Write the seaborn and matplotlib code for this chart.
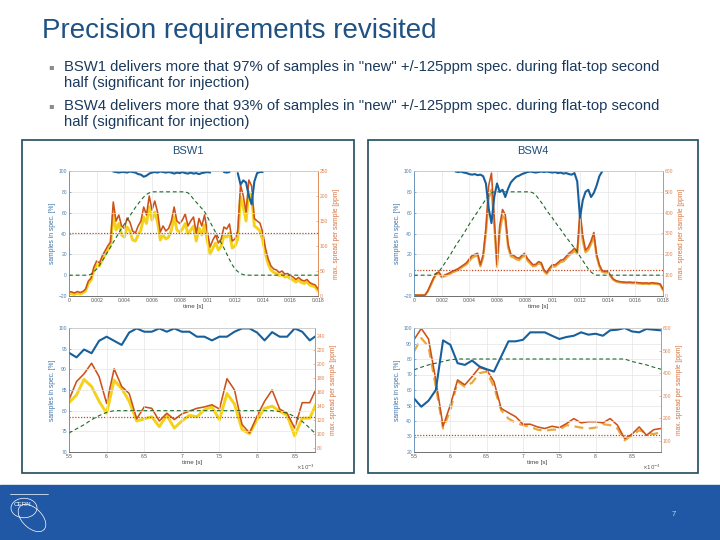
import matplotlib
matplotlib.use("Agg")
import matplotlib.pyplot as plt
from matplotlib.patches import Rectangle, Circle, Ellipse
from matplotlib.ticker import FuncFormatter
import numpy as np
import seaborn as sns

nan = np.nan

# ---------------- data ----------------
# top panels: full cycle, time in s
t_cycle = np.linspace(0, 0.018, 91)

bsw1_blue = [nan] * 16 + [
    99.5, 99, 98.5, 99, 99, 98.5, 99.5, 99, 98.5, 97, 96.5, 94.5, 95.5, 97.5, 98.5, 99,
    98.5, 99.5, 99, 98.5, 99, 98.5, 97.5, 98.5, 98, 99, 98, 97.5, 98.5, 97.5, 98, 97,
    98, 98.5, 99, 98.5, nan, nan, nan, nan, 99, 98.5, 99, nan, nan, 98, 87, 91, 89, 76,
    68, 90, 98, 99, 99] + [nan] * 20
bsw1_green = [0] * 8 + [
    1, 3, 6, 9.5, 13.5, 18, 22.5, 27, 31.5, 36, 40.5, 45, 49, 53, 57, 61, 65, 68.5, 72,
    75, 77.5, 79] + [80] * 13 + [
    79, 76.5, 73, 70, 67, 64, 61, 56, 51, 46, 41, 36, 31, 26, 20.5, 15, 10, 6, 3.5, 1.5,
    0.5] + [0] * 27
bsw1_orange = [
    9, 8, 6, 9, 7, 9, 14, 30, 36, 58, 70, 66, 80, 90, 100, 108, 188, 150, 162, 140, 135,
    156, 148, 130, 126, 140, 150, 178, 162, 200, 172, 190, 168, 128, 140, 130, 135, 150,
    178, 150, 145, 152, 164, 140, 150, 158, 126, 155, 140, 162, 128, 98, 112, 122, 106,
    114, 138, 134, 144, 110, 114, 130, 222, 200, 168, 232, 220, 155, 150, 146, 128, 96,
    74, 60, 54, 52, 47, 50, 44, 45, 41, 38, 33, 37, 32, 30, 33, 27, 24, 22, 14]
bsw1_yellow = [
    6, 4, 3, 6, 4, 6, 10, 25, 32, 52, 62, 60, 72, 82, 92, 100, 165, 132, 145, 122, 118,
    138, 130, 112, 110, 122, 132, 158, 145, 178, 152, 168, 148, 112, 122, 114, 118, 132,
    158, 132, 128, 134, 145, 124, 132, 140, 110, 136, 122, 142, 110, 84, 96, 106, 92,
    100, 120, 118, 126, 96, 100, 114, 198, 178, 150, 208, 198, 140, 136, 130, 112, 84,
    64, 52, 47, 45, 41, 43, 38, 39, 35, 32, 28, 31, 27, 25, 28, 22, 20, 18, 10]

bsw4_blue = [nan] * 15 + [
    99.5, 99, 99.5, 98.5, 98, 97, 96.5, 97, 96, 96.5, 95, 88, 64, 50, 75, 88, 80, 82, 75,
    83, 89, 92, 94.5, 95.5, 97, 98, 99, 99.5, 99, 98.5, 99, 99.5, 99, 99.5, 99, 98.5, 99,
    98, 98.5, 97.5, 98, 97, 96.5, 98, 90, 55, 72, 80, 82, 75, 79, 86, 95, 99.5] + [nan] * 22
bsw4_green = [0] * 7 + [
    0.5, 1.5, 3.5, 7, 11, 15, 19, 23.5, 28, 32, 36, 40, 44.5, 49, 53, 57, 61, 65, 69, 73,
    76.5, 79] + [80] * 14 + [
    79, 77, 73.5, 70, 66, 62, 58.5, 55, 51, 47.5, 44, 40, 36.5, 33, 29.5, 26, 22, 18, 14,
    10, 6, 3, 1] + [0] * 25
bsw4_orange = [
    6, 4, 4, 4, 5, 25, 55, 85, 108, 116, 94, 100, 106, 112, 120, 125, 132, 141, 150, 160,
    178, 194, 200, 205, 150, 200, 330, 530, 590, 380, 150, 340, 415, 390, 250, 200, 195,
    185, 181, 195, 205, 180, 165, 150, 152, 165, 160, 125, 112, 135, 150, 149, 160, 172,
    175, 190, 205, 215, 229, 215, 410, 290, 220, 235, 265, 305, 200, 150, 122, 118, 120,
    100, 82, 74, 70, 68, 67, 66, 67, 65, 66, 64, 63, 62, 63, 61, 64, 62, 61, 58, 32]
bsw4_yellow = [
    4, 3, 3, 3, 4, 22, 50, 80, 102, 110, 90, 95, 100, 106, 114, 119, 126, 135, 144, 152,
    168, 184, 190, 195, 142, 185, 300, 470, 510, 340, 140, 310, 385, 365, 235, 190, 185,
    176, 172, 185, 195, 170, 156, 142, 145, 156, 152, 118, 106, 128, 142, 141, 152, 163,
    166, 180, 194, 204, 216, 204, 370, 265, 210, 222, 250, 285, 190, 142, 116, 112, 114,
    95, 78, 70, 66, 64, 63, 62, 63, 61, 62, 60, 59, 58, 59, 57, 60, 58, 57, 54, 28]

# bottom panels: zoom on flat-top, time in ms (axis shows x10^-3 s)
t_zoom1 = np.linspace(5.5, 8.8, 34)
zoom1_blue = [
    94.0, 92.9, 94.8, 93.9, 96.9, 97.9, 96.9, 95.9, 98.9, 99.9, 99.1, 99.1, 99.9, 99.1,
    99.9, 99.1, 99.1, 97.9, 97.9, 97.0, 97.9, 97.9, 99.1, 99.9, 99.9, 98.9, 97.0, 99.0,
    97.9, 97.9, 99.9, 99.1, 97.0, 98.3]
zoom1_green = [74.6, 75.6, 76.6, 77.8, 78.8, 79.6] + [80] * 22 + [79.8, 79.4, 78.6, 77.4, 75.8, 74.0]
zoom1_orange = [
    149, 175, 186, 201, 182, 144, 193, 168, 158, 122, 139, 137, 119, 130, 121, 129, 133,
    137, 139, 142, 136, 179, 163, 114, 102, 126, 147, 163, 136, 130, 109, 145, 145, 168]
zoom1_yellow = [
    145, 156, 178, 168, 147, 130, 177, 165, 147, 119, 122, 125, 111, 127, 109, 119, 127,
    125, 135, 139, 121, 158, 143, 107, 101, 121, 137, 140, 133, 127, 98, 123, 123, 147]

t_zoom4 = np.linspace(5.5, 8.9, 35)
zoom4_blue = [
    54.6, 49.2, 53.1, 60, 92, 89.2, 77.3, 76.2, 79, 75.2, 73.4, 71.9, 81.6, 91.4, 91.4,
    92.4, 97.2, 97.2, 97.2, 95, 92.9, 94.2, 95, 97.2, 95.7, 96.3, 95, 98.5, 98.9, 100,
    97.8, 97.2, 99.4, 98.9, 98.5]
zoom4_green = [73, 74.7, 76.2, 77.3, 78.4, 79.5] + [80] * 24 + [78.4, 77.3, 76.2, 74.7, 73.4]
zoom4_orange = [
    548, 598, 551, 370, 165, 259, 370, 348, 385, 425, 415, 363, 244, 225, 207, 174, 174,
    162, 155, 165, 159, 177, 199, 180, 185, 185, 180, 199, 170, 110, 130, 162, 125, 150, 155]
zoom4_yellow = [
    496, 555, 518, 340, 155, 236, 363, 340, 358, 400, 407, 340, 236, 199, 180, 170, 162,
    150, 145, 150, 150, 170, 165, 159, 155, 159, 174, 170, 155, 103, 125, 147, 136, 130, 140]

spec_ppm = 125

title = "Precision requirements revisited"
bullets = [
    'BSW1 delivers more that 97% of samples in "new" +/-125ppm spec. during flat-top second',
    "half (significant for injection)",
    'BSW4 delivers more that 93% of samples in "new" +/-125ppm spec. during flat-top second',
    "half (significant for injection)",
]

# ---------------- style ----------------
sns.set_style("white")
plt.rcParams["font.family"] = ["Liberation Sans", "DejaVu Sans"]

BLUE = "#17609c"
ORANGE = "#cc5218"
YELLOW = "#f5d21a"
AMBER = "#eaa83a"
GREEN = "#1e6b2a"
SPEC = "#c8401c"
TXT = "#1b3a5c"

W, H = 720, 540
fig = plt.figure(figsize=(7.2, 5.4), dpi=100)


def fx(px):
    return px / W


def fy(py):
    return 1 - py / H


def segments(x, y):
    # split a series at its gaps so each piece is its own line
    y = np.asarray(y, dtype=float)
    ok = ~np.isnan(y)
    start = None
    for i, v in enumerate(ok):
        if v and start is None:
            start = i
        if (not v or i == len(ok) - 1) and start is not None:
            end = i + 1 if v else i
            yield x[start:end], y[start:end]
            start = None


def draw(ax, x, y, **kw):
    for xs, ys in segments(np.asarray(x), y):
        sns.lineplot(x=xs, y=ys, ax=ax, estimator=None, sort=False, legend=False, **kw)


def panel(box, t, blue, green, orange, yellow, ylim_l, lticks, ylim_r, rticks,
          xlim, xticks, ycol, ylw, yls, zoomed):
    l, top, r, b = box
    ax = fig.add_axes([fx(l), fy(b), fx(r) - fx(l), fy(top) - fy(b)])
    ax2 = ax.twinx()

    draw(ax, t, green, color=GREEN, lw=0.8, linestyle=(0, (3.5, 2.5)))
    draw(ax, t, blue, color=BLUE, lw=1.5)
    draw(ax2, t, yellow, color=ycol, lw=ylw, linestyle=yls)
    draw(ax2, t, orange, color=ORANGE, lw=1.15)
    ax2.axhline(spec_ppm, color=SPEC, lw=0.9, linestyle=(0, (1, 1.3)))
    ax.set_zorder(ax2.get_zorder() + 1)
    ax.patch.set_visible(False)

    ax.set_xlim(*xlim)
    ax.set_xticks(xticks)
    ax.set_ylim(*ylim_l)
    ax.set_yticks(lticks)
    ax2.set_ylim(*ylim_r)
    ax2.set_yticks(rticks)
    ax.xaxis.set_major_formatter(FuncFormatter(lambda v, _: "0" if abs(v) < 1e-12 else f"{v:g}"))
    ax.grid(True, color="#e4e4e4", lw=0.5)
    ax.set_axisbelow(True)

    for a in (ax, ax2):
        a.tick_params(labelsize=3.6, length=1.5, width=0.4, direction="in", pad=1.5)
        for s in a.spines.values():
            s.set_linewidth(0.5)
    ax.tick_params(axis="y", colors="#4a7fb0")
    ax2.tick_params(axis="y", colors="#dc8552")
    ax.tick_params(axis="x", colors="#555555")
    for a in (ax, ax2):
        a.spines["left"].set_color("#4a7fb0")
        a.spines["right"].set_color("#dc8552")
        a.spines["top"].set_color("#c8c8c8")
        a.spines["bottom"].set_color("#666666")

    ax.set_xlabel("time [s]", fontsize=4.5, color="#444444", labelpad=1)
    ax.set_ylabel("samples in spec. [%]", fontsize=4.8, color="#3c74a8", labelpad=2)
    ax2.set_ylabel("max. spread per sample [ppm]", fontsize=4.8, color="#d6733c", labelpad=3)
    if zoomed:
        ax.text(1.0, -0.09, r"$\times10^{-3}$", transform=ax.transAxes, fontsize=4,
                color="#555555", ha="right", va="top")
    return ax


# top panels
panel((69, 171, 318, 296), t_cycle, bsw1_blue, bsw1_green, bsw1_orange, bsw1_yellow,
      (-20, 100), range(-20, 101, 20), (0, 250), range(0, 251, 50),
      (0, 0.018), np.linspace(0, 0.018, 10), YELLOW, 2.1, "-", False)
panel((414, 171, 663, 296), t_cycle, bsw4_blue, bsw4_green, bsw4_orange, bsw4_yellow,
      (-20, 100), range(-20, 101, 20), (0, 600), range(0, 601, 100),
      (0, 0.018), np.linspace(0, 0.018, 10), AMBER, 1.6, "-", False)
# bottom panels
panel((69, 328, 315, 452), t_zoom1, zoom1_blue, zoom1_green, zoom1_orange, zoom1_yellow,
      (70, 100), range(70, 101, 5), (75, 251), range(80, 241, 20),
      (5.5, 8.77), np.arange(5.5, 8.6, 0.5), YELLOW, 2.1, "-", True)
panel((414, 328, 661, 452), t_zoom4, zoom4_blue, zoom4_green, zoom4_orange, zoom4_yellow,
      (20, 100), range(20, 101, 10), (51, 600), range(100, 601, 100),
      (5.5, 8.9), np.arange(5.5, 8.6, 0.5), AMBER, 1.6, (0, (4, 2.5)), True)

# ---------------- slide decoration ----------------
for l, t, r, b in [(22, 140, 354, 473), (368, 140, 698, 473)]:
    fig.patches.append(Rectangle((fx(l), fy(b)), fx(r) - fx(l), fy(t) - fy(b),
                                 transform=fig.transFigure, fill=False,
                                 ec="#1f4d5c", lw=1.2, zorder=0))
fig.text(fx(188), fy(151), "BSW1", ha="center", va="center", fontsize=8, color="#1f4e79")
fig.text(fx(533), fy(151), "BSW4", ha="center", va="center", fontsize=8, color="#1f4e79")

fig.text(fx(42), fy(31), title, fontsize=20, color="#1f5182", va="center")
for i, (yy, line) in enumerate(zip([67, 83, 106, 122], bullets)):
    if i % 2 == 0:
        fig.text(fx(48), fy(yy), "\u25aa", fontsize=6, color="#8c8c8c", va="center",
                 family=["DejaVu Sans"])
    fig.text(fx(64), fy(yy), line, fontsize=10.7, color=TXT, va="center")

# footer band with a simple logo outline
fig.patches.append(Rectangle((0, 0), 1, fy(485), transform=fig.transFigure,
                             color="#2058a6", zorder=0))
fig.patches.append(Circle((fx(24), fy(508)), 13 / W, transform=fig.transFigure,
                          fill=False, ec="white", lw=0.5))
fig.patches.append(Ellipse((fx(32), fy(518)), 22 / W, 30 / H, angle=30,
                           transform=fig.transFigure, fill=False, ec="white", lw=0.5))
fig.lines.append(plt.Line2D([fx(10), fx(48)], [fy(494), fy(494)], transform=fig.transFigure,
                            color="white", lw=0.5))
fig.text(fx(22), fy(505), "CERN", fontsize=4.5, color="white", ha="center", va="center")
fig.text(fx(674), fy(514), "7", fontsize=5.5, color="#c9d6ee", ha="center", va="center")

fig.savefig("out.png", dpi=100)
